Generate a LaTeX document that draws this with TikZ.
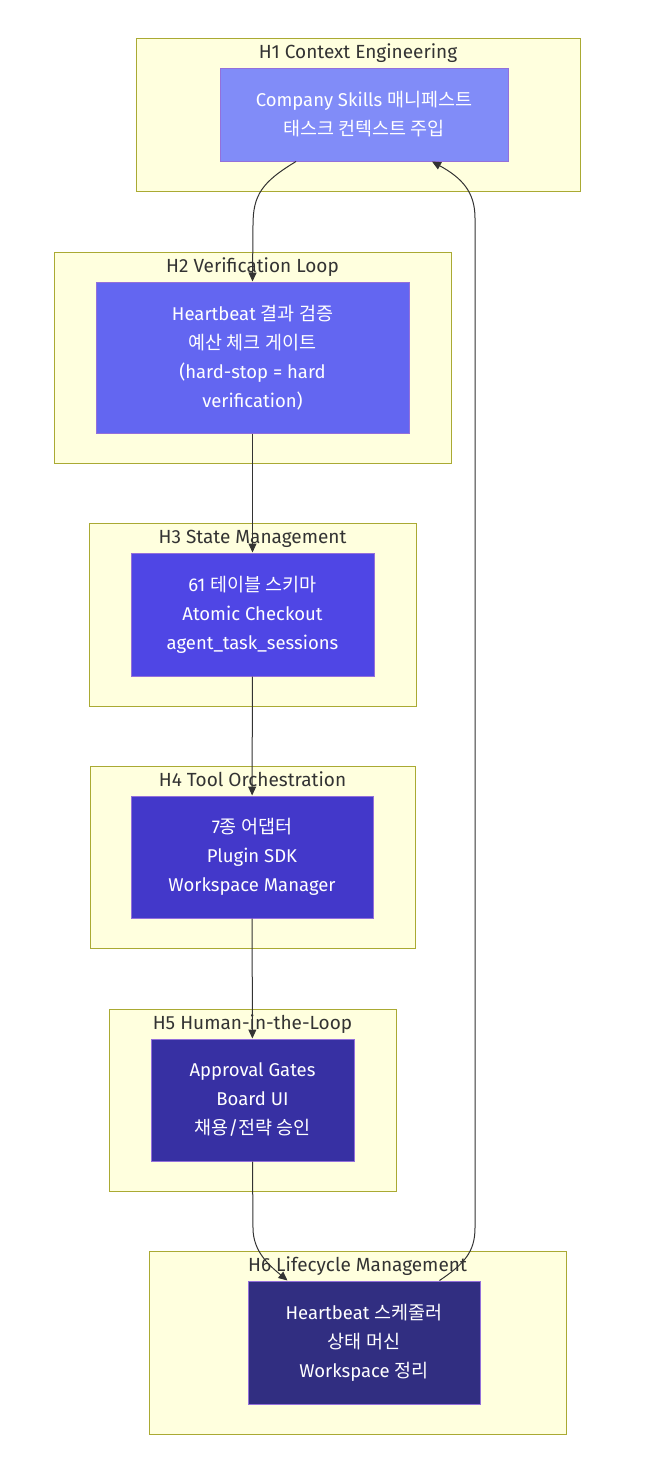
\documentclass[tikz,border=0pt]{standalone}
\usepackage{fontspec}
\setmainfont{Fira Sans}
\newfontfamily\kr{Noto Sans CJK KR}
\usetikzlibrary{arrows.meta,calc}
\definecolor{LayerFill}{HTML}{FFFFDE}
\definecolor{LayerLine}{HTML}{AAAA33}
\definecolor{NodeLine}{HTML}{9370DB}
\definecolor{EdgeGray}{HTML}{333333}
\definecolor{IndigoOne}{HTML}{818CF8}
\definecolor{IndigoTwo}{HTML}{6366F1}
\definecolor{IndigoThree}{HTML}{4F46E5}
\definecolor{IndigoFour}{HTML}{4338CA}
\definecolor{IndigoFive}{HTML}{3730A3}
\definecolor{IndigoSix}{HTML}{312E81}

\begin{document}
\begin{tikzpicture}[x=1pt, y=-1pt, >={Triangle[length=9pt, width=8pt]},
    layer/.style={draw=LayerLine, fill=LayerFill, line width=1pt, inner sep=0pt},
    layertitle/.style={text=EdgeGray, anchor=base, font=\fontsize{19}{22}\selectfont},
    harness/.style={draw=NodeLine, line width=1pt, text=white, align=center, inner sep=0pt,
        font=\fontsize{18.5}{29}\selectfont},
    flow/.style={->, EdgeGray, line width=1pt}]
    \useasboundingbox (0,0) rectangle (658,1478);

    % Layers
    \node[layer, minimum width=444, minimum height=153] (h1) at (358,114.5) {};
    \node[layer, minimum width=397, minimum height=211] (h2) at (252.5,357.5) {};
    \node[layer, minimum width=327, minimum height=183] (h3) at (252.5,614.5) {};
    \node[layer, minimum width=325, minimum height=182] (h4) at (252.5,857) {};
    \node[layer, minimum width=287, minimum height=182] (h5) at (252.5,1100) {};
    \node[layer, minimum width=417, minimum height=183] (h6) at (357.5,1342.5) {};

    % Layer titles
    \node[layertitle] (t1) at ($(h1.north)+(0,21)$) {H1 Context Engineering};
    \node[layertitle] (t2) at ($(h2.north)+(0,21)$) {H2 Verification Loop};
    \node[layertitle] (t3) at ($(h3.north)+(0,21)$) {H3 State Management};
    \node[layertitle] (t4) at ($(h4.north)+(0,21)$) {H4 Tool Orchestration};
    \node[layertitle] (t5) at ($(h5.north)+(0,21)$) {H5 Human-in-the-Loop};
    \node[layertitle] (t6) at ($(h6.north)+(0,21)$) {H6 Lifecycle Management};

    % Harness boxes
    \node[harness, fill=IndigoOne, minimum width=288, minimum height=93] (ctx) at (364,114.5)
        {Company Skills {\kr 매니페스트}\\{\kr 태스크 컨텍스트 주입}};
    \node[harness, fill=IndigoTwo, minimum width=313, minimum height=151] (verify) at (252.5,357.5)
        {Heartbeat {\kr 결과 검증}\\{\kr 예산 체크 게이트}\\(hard-stop = hard\\verification)};
    \node[harness, fill=IndigoThree, minimum width=243, minimum height=123] (state) at (252.5,614.5)
        {61 {\kr 테이블 스키마}\\Atomic Checkout\\agent\_task\_sessions};
    \node[harness, fill=IndigoFour, minimum width=242, minimum height=122] (tool) at (252,857)
        {7{\kr 종 어댑터}\\Plugin SDK\\Workspace Manager};
    \node[harness, fill=IndigoFive, minimum width=203, minimum height=122] (human) at (252.5,1100)
        {Approval Gates\\Board UI\\{\kr 채용}/{\kr 전략 승인}};
    \node[harness, fill=IndigoSix, minimum width=232, minimum height=123] (life) at (364,1342.5)
        {Heartbeat {\kr 스케줄러}\\{\kr 상태 머신}\\Workspace {\kr 정리}};

    % Flow
    \draw[flow] ($(ctx.south)+(-68,0)$) .. controls (262,182) and (253,195) .. (253,225) -- (verify.north);
    \draw[flow] (verify) -- (state);
    \draw[flow] (state) -- (tool);
    \draw[flow] (tool) -- (human);
    \draw[flow] (human.south) -- (253,1228) .. controls (253,1252) and (270,1266) .. ($(life.north west)+(40,0)$);
    \draw[flow] ($(life.north west)+(192,0)$) .. controls (464,1264) and (475,1252) .. (475,1228)
        -- (475,218) .. controls (475,192) and (462,178) .. ($(ctx.south)+(68,0)$);
\end{tikzpicture}
\end{document}
